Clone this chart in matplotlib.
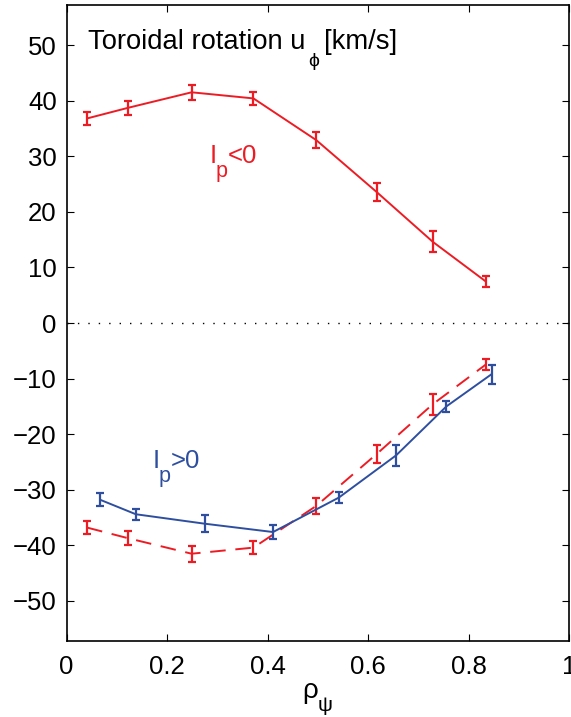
import matplotlib
matplotlib.use("Agg")
import matplotlib.pyplot as plt
from matplotlib.transforms import IdentityTransform

plt.rcParams.update({
    "font.family": ["Liberation Sans", "DejaVu Sans"],
    "font.size": 18.5,
})

RED = "#ED1C24"
BLUE = "#2E4FA0"

###############################################################################

# Ip < 0 (solid red), mirrored for the dashed red curve
rho_neg = [0.041, 0.122, 0.249, 0.372, 0.497, 0.618, 0.729, 0.834]
u_neg = [36.8, 38.7, 41.5, 40.4, 32.9, 23.5, 14.6, 7.5]
err_neg = [1.2, 1.2, 1.4, 1.2, 1.4, 1.6, 1.9, 1.0]
u_mirror = [-v for v in u_neg]

# Ip > 0 (solid blue)
rho_pos = [0.067, 0.138, 0.275, 0.411, 0.542, 0.656, 0.756, 0.846]
u_pos = [-31.8, -34.4, -36.1, -37.6, -31.4, -23.8, -15.0, -9.2]
err_pos = [1.2, 1.0, 1.5, 1.2, 1.0, 1.9, 1.0, 1.7]

xticks = [0, 0.2, 0.4, 0.6, 0.8, 1]
xticklabels = ["0", "0.2", "0.4", "0.6", "0.8", "1"]
yticks = list(range(-50, 51, 10))

###############################################################################

W, H = 571, 717
fig = plt.figure(figsize=(W / 100, H / 100), dpi=100)
ax = fig.add_axes([0.1165, 0.106, 0.880, 0.887])


def px_text(x, y, s, size, color="black"):
    # x, y in image pixels from the top-left, y is the baseline
    fig.text(x, H - y, s, transform=IdentityTransform(), fontsize=size,
             color=color, ha="left", va="baseline")


ax.axhline(0, color="black", lw=1.0, ls=(0, (1, 6.5)))

eb = dict(fmt="none", capsize=2.8, elinewidth=1.6, capthick=1.6)

ax.plot(rho_neg, u_neg, color=RED, lw=1.4)
ax.errorbar(rho_neg, u_neg, yerr=err_neg, ecolor=RED, **eb)

ax.plot(rho_neg, u_mirror, color=RED, lw=1.4, ls=(0, (8, 5)))
ax.errorbar(rho_neg, u_mirror, yerr=err_neg, ecolor=RED, **eb)

ax.plot(rho_pos, u_pos, color=BLUE, lw=1.4)
ax.errorbar(rho_pos, u_pos, yerr=err_pos, ecolor=BLUE, **eb)

ax.set_xlim(0, 1)
ax.set_ylim(-57.2, 57.2)
ax.set_xticks(xticks)
ax.set_xticklabels(xticklabels)
ax.set_yticks(yticks)
ax.tick_params(direction="in", length=5, width=0.8, top=True, right=True,
               labelsize=18.5)
ax.tick_params(axis="x", pad=10)
ax.tick_params(axis="y", pad=7)
for s in ax.spines.values():
    s.set_linewidth(1.2)

# title with lowered subscript, MATLAB style
px_text(88, 49, "Toroidal rotation u", 19.7)
px_text(308, 66, "\u03d5", 14)
px_text(324, 49, "[km/s]", 19.7)

# Ip labels
px_text(210, 163, "I", 18.5, RED)
px_text(216, 177, "p", 15.5, RED)
px_text(228, 163, "<0", 18.5, RED)

px_text(153, 468, "I", 18.5, BLUE)
px_text(159, 482, "p", 15.5, BLUE)
px_text(171, 468, ">0", 18.5, BLUE)

# x label
px_text(302, 698, "\u03c1", 20)
px_text(318, 711, "\u03c8", 15)

fig.savefig("out.png", dpi=100)
